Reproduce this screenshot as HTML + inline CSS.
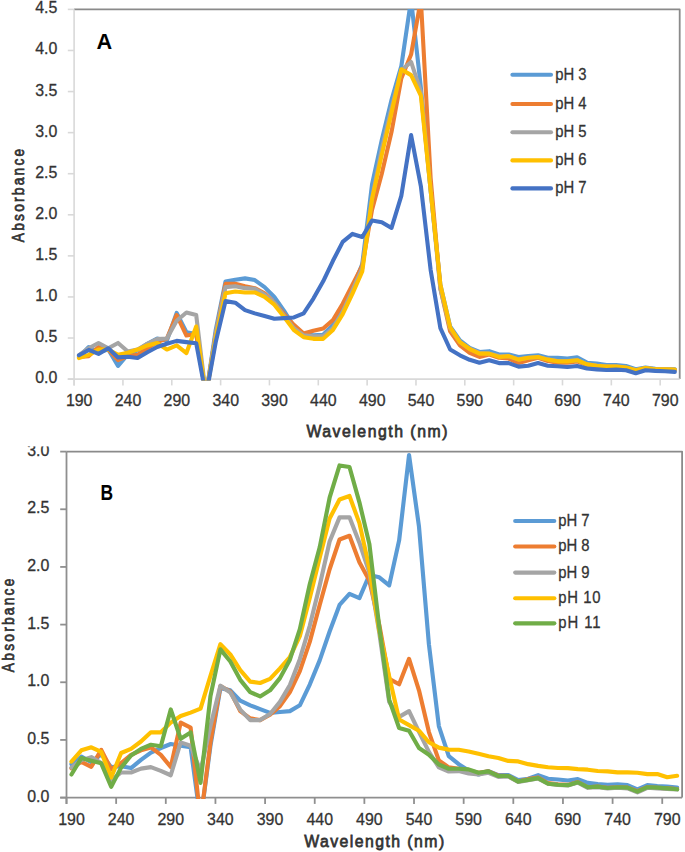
<!DOCTYPE html>
<html><head><meta charset="utf-8"><title>Absorbance spectra</title>
<style>html,body{margin:0;padding:0;background:#fff;overflow:hidden}svg{display:block}svg text{font-family:"Liberation Sans",sans-serif}</style>
</head><body>
<svg width="685" height="852" viewBox="0 0 685 852">
<rect width="685" height="852" fill="#fff"/>
<clipPath id="ca"><rect x="74.1" y="8.9" width="605.6" height="371.50000000000006"/></clipPath>
<path d="M74.10 9.40H679.70V379.10" fill="none" stroke="#8a8a8a" stroke-width="1.8" stroke-linejoin="round"/>
<line x1="74.10" y1="9.40" x2="74.10" y2="385.40" stroke="#d9d9d9" stroke-width="1.6"/>
<line x1="67.80" y1="379.10" x2="679.70" y2="379.10" stroke="#d9d9d9" stroke-width="1.6"/>
<line x1="67.80" y1="379.10" x2="74.10" y2="379.10" stroke="#d9d9d9" stroke-width="1.6"/>
<text transform="translate(57.30,383.10) scale(0.95,1)" text-anchor="end" font-size="16.8" font-weight="normal" fill="#333333" stroke="#333333" stroke-width="0.3" >0.0</text>
<line x1="67.80" y1="338.02" x2="74.10" y2="338.02" stroke="#d9d9d9" stroke-width="1.6"/>
<text transform="translate(57.30,342.02) scale(0.95,1)" text-anchor="end" font-size="16.8" font-weight="normal" fill="#333333" stroke="#333333" stroke-width="0.3" >0.5</text>
<line x1="67.80" y1="296.94" x2="74.10" y2="296.94" stroke="#d9d9d9" stroke-width="1.6"/>
<text transform="translate(57.30,300.94) scale(0.95,1)" text-anchor="end" font-size="16.8" font-weight="normal" fill="#333333" stroke="#333333" stroke-width="0.3" >1.0</text>
<line x1="67.80" y1="255.87" x2="74.10" y2="255.87" stroke="#d9d9d9" stroke-width="1.6"/>
<text transform="translate(57.30,259.87) scale(0.95,1)" text-anchor="end" font-size="16.8" font-weight="normal" fill="#333333" stroke="#333333" stroke-width="0.3" >1.5</text>
<line x1="67.80" y1="214.79" x2="74.10" y2="214.79" stroke="#d9d9d9" stroke-width="1.6"/>
<text transform="translate(57.30,218.79) scale(0.95,1)" text-anchor="end" font-size="16.8" font-weight="normal" fill="#333333" stroke="#333333" stroke-width="0.3" >2.0</text>
<line x1="67.80" y1="173.71" x2="74.10" y2="173.71" stroke="#d9d9d9" stroke-width="1.6"/>
<text transform="translate(57.30,177.71) scale(0.95,1)" text-anchor="end" font-size="16.8" font-weight="normal" fill="#333333" stroke="#333333" stroke-width="0.3" >2.5</text>
<line x1="67.80" y1="132.63" x2="74.10" y2="132.63" stroke="#d9d9d9" stroke-width="1.6"/>
<text transform="translate(57.30,136.63) scale(0.95,1)" text-anchor="end" font-size="16.8" font-weight="normal" fill="#333333" stroke="#333333" stroke-width="0.3" >3.0</text>
<line x1="67.80" y1="91.56" x2="74.10" y2="91.56" stroke="#d9d9d9" stroke-width="1.6"/>
<text transform="translate(57.30,95.56) scale(0.95,1)" text-anchor="end" font-size="16.8" font-weight="normal" fill="#333333" stroke="#333333" stroke-width="0.3" >3.5</text>
<line x1="67.80" y1="50.48" x2="74.10" y2="50.48" stroke="#d9d9d9" stroke-width="1.6"/>
<text transform="translate(57.30,54.48) scale(0.95,1)" text-anchor="end" font-size="16.8" font-weight="normal" fill="#333333" stroke="#333333" stroke-width="0.3" >4.0</text>
<line x1="67.80" y1="9.40" x2="74.10" y2="9.40" stroke="#d9d9d9" stroke-width="1.6"/>
<text transform="translate(57.30,13.40) scale(0.95,1)" text-anchor="end" font-size="16.8" font-weight="normal" fill="#333333" stroke="#333333" stroke-width="0.3" >4.5</text>
<line x1="74.10" y1="379.10" x2="74.10" y2="385.40" stroke="#d9d9d9" stroke-width="1.6"/>
<text transform="translate(79.18,406.30) scale(0.95,1)" text-anchor="middle" font-size="16.8" font-weight="normal" fill="#333333" stroke="#333333" stroke-width="0.3" >190</text>
<line x1="122.94" y1="379.10" x2="122.94" y2="385.40" stroke="#d9d9d9" stroke-width="1.6"/>
<text transform="translate(128.02,406.30) scale(0.95,1)" text-anchor="middle" font-size="16.8" font-weight="normal" fill="#333333" stroke="#333333" stroke-width="0.3" >240</text>
<line x1="171.78" y1="379.10" x2="171.78" y2="385.40" stroke="#d9d9d9" stroke-width="1.6"/>
<text transform="translate(176.86,406.30) scale(0.95,1)" text-anchor="middle" font-size="16.8" font-weight="normal" fill="#333333" stroke="#333333" stroke-width="0.3" >290</text>
<line x1="220.62" y1="379.10" x2="220.62" y2="385.40" stroke="#d9d9d9" stroke-width="1.6"/>
<text transform="translate(225.70,406.30) scale(0.95,1)" text-anchor="middle" font-size="16.8" font-weight="normal" fill="#333333" stroke="#333333" stroke-width="0.3" >340</text>
<line x1="269.45" y1="379.10" x2="269.45" y2="385.40" stroke="#d9d9d9" stroke-width="1.6"/>
<text transform="translate(274.54,406.30) scale(0.95,1)" text-anchor="middle" font-size="16.8" font-weight="normal" fill="#333333" stroke="#333333" stroke-width="0.3" >390</text>
<line x1="318.29" y1="379.10" x2="318.29" y2="385.40" stroke="#d9d9d9" stroke-width="1.6"/>
<text transform="translate(323.38,406.30) scale(0.95,1)" text-anchor="middle" font-size="16.8" font-weight="normal" fill="#333333" stroke="#333333" stroke-width="0.3" >440</text>
<line x1="367.13" y1="379.10" x2="367.13" y2="385.40" stroke="#d9d9d9" stroke-width="1.6"/>
<text transform="translate(372.22,406.30) scale(0.95,1)" text-anchor="middle" font-size="16.8" font-weight="normal" fill="#333333" stroke="#333333" stroke-width="0.3" >490</text>
<line x1="415.97" y1="379.10" x2="415.97" y2="385.40" stroke="#d9d9d9" stroke-width="1.6"/>
<text transform="translate(421.05,406.30) scale(0.95,1)" text-anchor="middle" font-size="16.8" font-weight="normal" fill="#333333" stroke="#333333" stroke-width="0.3" >540</text>
<line x1="464.81" y1="379.10" x2="464.81" y2="385.40" stroke="#d9d9d9" stroke-width="1.6"/>
<text transform="translate(469.89,406.30) scale(0.95,1)" text-anchor="middle" font-size="16.8" font-weight="normal" fill="#333333" stroke="#333333" stroke-width="0.3" >590</text>
<line x1="513.65" y1="379.10" x2="513.65" y2="385.40" stroke="#d9d9d9" stroke-width="1.6"/>
<text transform="translate(518.73,406.30) scale(0.95,1)" text-anchor="middle" font-size="16.8" font-weight="normal" fill="#333333" stroke="#333333" stroke-width="0.3" >640</text>
<line x1="562.49" y1="379.10" x2="562.49" y2="385.40" stroke="#d9d9d9" stroke-width="1.6"/>
<text transform="translate(567.57,406.30) scale(0.95,1)" text-anchor="middle" font-size="16.8" font-weight="normal" fill="#333333" stroke="#333333" stroke-width="0.3" >690</text>
<line x1="611.33" y1="379.10" x2="611.33" y2="385.40" stroke="#d9d9d9" stroke-width="1.6"/>
<text transform="translate(616.41,406.30) scale(0.95,1)" text-anchor="middle" font-size="16.8" font-weight="normal" fill="#333333" stroke="#333333" stroke-width="0.3" >740</text>
<line x1="660.16" y1="379.10" x2="660.16" y2="385.40" stroke="#d9d9d9" stroke-width="1.6"/>
<text transform="translate(665.25,406.30) scale(0.95,1)" text-anchor="middle" font-size="16.8" font-weight="normal" fill="#333333" stroke="#333333" stroke-width="0.3" >790</text>
<g clip-path="url(#ca)" fill="none" stroke-width="4.1" stroke-linejoin="round" stroke-linecap="round">
<polyline points="78.98,356.92 88.75,347.06 98.52,351.99 108.29,349.52 118.05,365.96 127.82,354.45 137.59,350.35 147.36,343.77 157.13,338.43 166.89,340.49 176.66,312.96 186.43,332.27 196.20,333.91 205.96,395.53 215.73,329.81 225.50,281.50 235.27,279.69 245.04,278.38 254.80,280.10 264.57,287.09 274.34,296.94 284.11,310.91 293.87,326.52 303.64,334.41 313.41,335.31 323.18,334.74 332.95,324.88 342.71,309.27 352.48,288.73 362.25,264.08 372.02,184.39 381.78,140.03 391.55,99.77 401.32,66.09 411.09,-0.46 420.85,87.45 430.62,190.14 440.39,284.62 450.16,326.52 459.93,340.49 469.69,347.88 479.46,351.99 489.23,351.17 499.00,354.45 508.76,354.45 518.53,356.92 528.30,356.10 538.07,355.27 547.84,357.74 557.60,357.74 567.37,358.56 577.14,357.33 586.91,362.67 596.67,363.49 606.44,365.13 616.21,365.13 625.98,365.96 635.75,369.24 645.51,367.60 655.28,368.83 665.05,369.24 674.82,369.24" stroke="#5B9BD5"/>
<polyline points="78.98,356.92 88.75,356.10 98.52,347.06 108.29,349.52 118.05,360.20 127.82,356.10 137.59,354.86 147.36,348.29 157.13,342.13 166.89,338.52 176.66,315.02 186.43,335.56 196.20,333.91 205.96,395.53 215.73,333.91 225.50,283.80 235.27,283.80 245.04,286.26 254.80,288.15 264.57,293.25 274.34,302.70 284.11,314.20 293.87,324.88 303.64,333.59 313.41,330.79 323.18,328.57 332.95,319.95 342.71,303.68 352.48,284.62 362.25,265.73 372.02,209.86 381.78,173.71 391.55,131.81 401.32,78.41 411.09,54.59 420.85,-0.46 430.62,177.82 440.39,288.73 450.16,331.45 459.93,345.42 469.69,352.81 479.46,356.92 489.23,354.45 499.00,357.74 508.76,358.56 518.53,363.08 528.30,360.20 538.07,357.74 547.84,361.03 557.60,362.67 567.37,362.67 577.14,361.44 586.91,365.13 596.67,366.37 606.44,366.78 616.21,366.78 625.98,368.01 635.75,370.88 645.51,368.42 655.28,369.65 665.05,369.65 674.82,370.06" stroke="#ED7D31"/>
<polyline points="78.98,355.27 88.75,348.29 98.52,342.95 108.29,348.29 118.05,342.95 127.82,351.50 137.59,349.52 147.36,343.77 157.13,339.09 166.89,338.52 176.66,320.77 186.43,312.55 196.20,315.02 205.96,395.53 215.73,333.91 225.50,287.09 235.27,286.26 245.04,288.15 254.80,288.73 264.57,294.48 274.34,302.70 284.11,315.84 293.87,328.16 303.64,335.31 313.41,336.38 323.18,336.38 332.95,328.16 342.71,311.73 352.48,290.37 362.25,268.19 372.02,198.36 381.78,149.06 391.55,107.99 401.32,70.20 411.09,61.98 420.85,91.56 430.62,190.14 440.39,288.73 450.16,328.16 459.93,342.13 469.69,348.70 479.46,352.81 489.23,353.63 499.00,356.10 508.76,356.10 518.53,359.38 528.30,357.74 538.07,356.92 547.84,359.38 557.60,361.03 567.37,361.03 577.14,360.20 586.91,364.31 596.67,365.54 606.44,366.37 616.21,366.37 625.98,367.60 635.75,370.06 645.51,368.01 655.28,369.24 665.05,369.24 674.82,369.49" stroke="#A5A5A5"/>
<polyline points="78.98,358.07 88.75,354.86 98.52,349.52 108.29,349.52 118.05,354.86 127.82,352.81 137.59,349.52 147.36,345.42 157.13,342.95 166.89,349.52 176.66,345.42 186.43,353.06 196.20,326.52 205.96,395.53 215.73,338.02 225.50,293.25 235.27,291.52 245.04,292.43 254.80,292.43 264.57,296.94 274.34,304.67 284.11,316.91 293.87,330.05 303.64,337.20 313.41,338.84 323.18,338.84 332.95,330.05 342.71,314.20 352.48,293.66 362.25,271.48 372.02,199.18 381.78,154.82 391.55,112.51 401.32,69.37 411.09,75.12 420.85,95.66 430.62,190.14 440.39,284.62 450.16,327.34 459.93,342.13 469.69,349.03 479.46,353.63 489.23,353.63 499.00,356.92 508.76,356.10 518.53,359.63 528.30,357.74 538.07,356.92 547.84,359.63 557.60,361.35 567.37,361.35 577.14,360.20 586.91,364.31 596.67,365.71 606.44,366.45 616.21,366.45 625.98,367.60 635.75,370.23 645.51,367.93 655.28,369.24 665.05,369.24 674.82,369.49" stroke="#FFC000"/>
<polyline points="78.98,355.27 88.75,349.93 98.52,353.88 108.29,348.29 118.05,357.41 127.82,356.75 137.59,358.07 147.36,352.24 157.13,347.06 166.89,343.77 176.66,340.90 186.43,342.13 196.20,343.20 205.96,395.53 215.73,342.13 225.50,301.13 235.27,302.70 245.04,310.09 254.80,313.38 264.57,316.09 274.34,318.72 284.11,318.14 293.87,317.48 303.64,313.38 313.41,298.59 323.18,281.33 332.95,260.80 342.71,241.90 352.48,233.93 362.25,236.97 372.02,220.54 381.78,222.18 391.55,227.93 401.32,195.89 411.09,135.10 420.85,186.03 430.62,269.83 440.39,328.16 450.16,349.52 459.93,355.27 469.69,359.79 479.46,362.67 489.23,360.20 499.00,363.08 508.76,363.08 518.53,366.61 528.30,365.71 538.07,363.08 547.84,365.71 557.60,366.20 567.37,366.94 577.14,365.96 586.91,368.58 596.67,369.41 606.44,370.06 616.21,369.65 625.98,370.23 635.75,373.18 645.51,370.23 655.28,370.88 665.05,371.30 674.82,371.87" stroke="#4472C4"/>
</g>
<text transform="translate(24.40,195.50) rotate(-90) scale(0.8,1)" text-anchor="middle" font-size="17.2" font-weight="normal" fill="#333333" stroke="#333333" stroke-width="0.75" textLength="116.88" lengthAdjust="spacing" >Absorbance</text>
<text transform="translate(376.90,437.00) scale(0.92,1)" text-anchor="middle" font-size="17.2" font-weight="normal" fill="#333333" stroke="#333333" stroke-width="0.75" textLength="153.26" lengthAdjust="spacing" >Wavelength (nm)</text>
<text transform="translate(96.60,49.10)" text-anchor="start" font-size="21.7" font-weight="bold" fill="#000" >A</text>
<line x1="512.4" y1="74.70" x2="551.0" y2="74.70" stroke="#5B9BD5" stroke-width="4.1" stroke-linecap="round"/>
<text transform="translate(555.20,79.60) scale(0.9,1)" text-anchor="start" font-size="16.5" font-weight="normal" fill="#333333" stroke="#333333" stroke-width="0.3" >pH 3</text>
<line x1="512.4" y1="104.00" x2="551.0" y2="104.00" stroke="#ED7D31" stroke-width="4.1" stroke-linecap="round"/>
<text transform="translate(555.20,108.90) scale(0.9,1)" text-anchor="start" font-size="16.5" font-weight="normal" fill="#333333" stroke="#333333" stroke-width="0.3" >pH 4</text>
<line x1="512.4" y1="132.20" x2="551.0" y2="132.20" stroke="#A5A5A5" stroke-width="4.1" stroke-linecap="round"/>
<text transform="translate(555.20,137.10) scale(0.9,1)" text-anchor="start" font-size="16.5" font-weight="normal" fill="#333333" stroke="#333333" stroke-width="0.3" >pH 5</text>
<line x1="512.4" y1="160.40" x2="551.0" y2="160.40" stroke="#FFC000" stroke-width="4.1" stroke-linecap="round"/>
<text transform="translate(555.20,165.30) scale(0.9,1)" text-anchor="start" font-size="16.5" font-weight="normal" fill="#333333" stroke="#333333" stroke-width="0.3" >pH 6</text>
<line x1="512.4" y1="188.40" x2="551.0" y2="188.40" stroke="#4472C4" stroke-width="4.1" stroke-linecap="round"/>
<text transform="translate(555.20,193.30) scale(0.9,1)" text-anchor="start" font-size="16.5" font-weight="normal" fill="#333333" stroke="#333333" stroke-width="0.3" >pH 7</text>
<clipPath id="cb"><rect x="66.5" y="451.1" width="615.6" height="347.8"/></clipPath>
<path d="M66.50 451.60H682.10V797.60" fill="none" stroke="#8a8a8a" stroke-width="1.8" stroke-linejoin="round"/>
<line x1="66.50" y1="451.60" x2="66.50" y2="803.90" stroke="#8f8f8f" stroke-width="1.8"/>
<line x1="60.20" y1="797.60" x2="682.10" y2="797.60" stroke="#8f8f8f" stroke-width="1.8"/>
<line x1="60.20" y1="797.60" x2="66.50" y2="797.60" stroke="#8f8f8f" stroke-width="1.8"/>
<text transform="translate(49.40,801.60) scale(0.95,1)" text-anchor="end" font-size="16.8" font-weight="normal" fill="#333333" stroke="#333333" stroke-width="0.3" >0.0</text>
<line x1="60.20" y1="739.93" x2="66.50" y2="739.93" stroke="#8f8f8f" stroke-width="1.8"/>
<text transform="translate(49.40,743.93) scale(0.95,1)" text-anchor="end" font-size="16.8" font-weight="normal" fill="#333333" stroke="#333333" stroke-width="0.3" >0.5</text>
<line x1="60.20" y1="682.27" x2="66.50" y2="682.27" stroke="#8f8f8f" stroke-width="1.8"/>
<text transform="translate(49.40,686.27) scale(0.95,1)" text-anchor="end" font-size="16.8" font-weight="normal" fill="#333333" stroke="#333333" stroke-width="0.3" >1.0</text>
<line x1="60.20" y1="624.60" x2="66.50" y2="624.60" stroke="#8f8f8f" stroke-width="1.8"/>
<text transform="translate(49.40,628.60) scale(0.95,1)" text-anchor="end" font-size="16.8" font-weight="normal" fill="#333333" stroke="#333333" stroke-width="0.3" >1.5</text>
<line x1="60.20" y1="566.93" x2="66.50" y2="566.93" stroke="#8f8f8f" stroke-width="1.8"/>
<text transform="translate(49.40,570.93) scale(0.95,1)" text-anchor="end" font-size="16.8" font-weight="normal" fill="#333333" stroke="#333333" stroke-width="0.3" >2.0</text>
<line x1="60.20" y1="509.27" x2="66.50" y2="509.27" stroke="#8f8f8f" stroke-width="1.8"/>
<text transform="translate(49.40,513.27) scale(0.95,1)" text-anchor="end" font-size="16.8" font-weight="normal" fill="#333333" stroke="#333333" stroke-width="0.3" >2.5</text>
<line x1="60.20" y1="451.60" x2="66.50" y2="451.60" stroke="#8f8f8f" stroke-width="1.8"/>
<text transform="translate(49.40,455.60) scale(0.95,1)" text-anchor="end" font-size="16.8" font-weight="normal" fill="#333333" stroke="#333333" stroke-width="0.3" >3.0</text>
<line x1="66.50" y1="797.60" x2="66.50" y2="803.90" stroke="#8f8f8f" stroke-width="1.8"/>
<text transform="translate(71.46,824.60) scale(0.95,1)" text-anchor="middle" font-size="16.8" font-weight="normal" fill="#333333" stroke="#333333" stroke-width="0.3" >190</text>
<line x1="116.15" y1="797.60" x2="116.15" y2="803.90" stroke="#8f8f8f" stroke-width="1.8"/>
<text transform="translate(121.11,824.60) scale(0.95,1)" text-anchor="middle" font-size="16.8" font-weight="normal" fill="#333333" stroke="#333333" stroke-width="0.3" >240</text>
<line x1="165.79" y1="797.60" x2="165.79" y2="803.90" stroke="#8f8f8f" stroke-width="1.8"/>
<text transform="translate(170.75,824.60) scale(0.95,1)" text-anchor="middle" font-size="16.8" font-weight="normal" fill="#333333" stroke="#333333" stroke-width="0.3" >290</text>
<line x1="215.44" y1="797.60" x2="215.44" y2="803.90" stroke="#8f8f8f" stroke-width="1.8"/>
<text transform="translate(220.40,824.60) scale(0.95,1)" text-anchor="middle" font-size="16.8" font-weight="normal" fill="#333333" stroke="#333333" stroke-width="0.3" >340</text>
<line x1="265.08" y1="797.60" x2="265.08" y2="803.90" stroke="#8f8f8f" stroke-width="1.8"/>
<text transform="translate(270.05,824.60) scale(0.95,1)" text-anchor="middle" font-size="16.8" font-weight="normal" fill="#333333" stroke="#333333" stroke-width="0.3" >390</text>
<line x1="314.73" y1="797.60" x2="314.73" y2="803.90" stroke="#8f8f8f" stroke-width="1.8"/>
<text transform="translate(319.69,824.60) scale(0.95,1)" text-anchor="middle" font-size="16.8" font-weight="normal" fill="#333333" stroke="#333333" stroke-width="0.3" >440</text>
<line x1="364.37" y1="797.60" x2="364.37" y2="803.90" stroke="#8f8f8f" stroke-width="1.8"/>
<text transform="translate(369.34,824.60) scale(0.95,1)" text-anchor="middle" font-size="16.8" font-weight="normal" fill="#333333" stroke="#333333" stroke-width="0.3" >490</text>
<line x1="414.02" y1="797.60" x2="414.02" y2="803.90" stroke="#8f8f8f" stroke-width="1.8"/>
<text transform="translate(418.98,824.60) scale(0.95,1)" text-anchor="middle" font-size="16.8" font-weight="normal" fill="#333333" stroke="#333333" stroke-width="0.3" >540</text>
<line x1="463.66" y1="797.60" x2="463.66" y2="803.90" stroke="#8f8f8f" stroke-width="1.8"/>
<text transform="translate(468.63,824.60) scale(0.95,1)" text-anchor="middle" font-size="16.8" font-weight="normal" fill="#333333" stroke="#333333" stroke-width="0.3" >590</text>
<line x1="513.31" y1="797.60" x2="513.31" y2="803.90" stroke="#8f8f8f" stroke-width="1.8"/>
<text transform="translate(518.27,824.60) scale(0.95,1)" text-anchor="middle" font-size="16.8" font-weight="normal" fill="#333333" stroke="#333333" stroke-width="0.3" >640</text>
<line x1="562.95" y1="797.60" x2="562.95" y2="803.90" stroke="#8f8f8f" stroke-width="1.8"/>
<text transform="translate(567.92,824.60) scale(0.95,1)" text-anchor="middle" font-size="16.8" font-weight="normal" fill="#333333" stroke="#333333" stroke-width="0.3" >690</text>
<line x1="612.60" y1="797.60" x2="612.60" y2="803.90" stroke="#8f8f8f" stroke-width="1.8"/>
<text transform="translate(617.56,824.60) scale(0.95,1)" text-anchor="middle" font-size="16.8" font-weight="normal" fill="#333333" stroke="#333333" stroke-width="0.3" >740</text>
<line x1="662.24" y1="797.60" x2="662.24" y2="803.90" stroke="#8f8f8f" stroke-width="1.8"/>
<text transform="translate(667.21,824.60) scale(0.95,1)" text-anchor="middle" font-size="16.8" font-weight="normal" fill="#333333" stroke="#333333" stroke-width="0.3" >790</text>
<g clip-path="url(#cb)" fill="none" stroke-width="4.15" stroke-linejoin="round" stroke-linecap="round">
<polyline points="71.46,764.15 81.39,756.66 91.32,762.19 101.25,754.35 111.18,767.15 121.11,766.23 131.04,768.07 140.97,759.89 150.90,752.62 160.83,748.01 170.75,743.97 180.68,745.70 190.61,747.20 200.54,820.67 210.47,745.70 220.40,688.15 230.33,690.34 240.26,700.72 250.19,705.33 260.12,709.14 270.05,712.83 279.97,712.02 289.90,711.10 299.83,705.33 309.76,684.57 319.69,660.35 329.62,631.52 339.55,604.99 349.48,593.81 359.41,598.07 369.34,575.01 379.26,577.31 389.19,585.39 399.12,540.41 409.05,455.06 418.98,526.57 428.91,644.21 438.84,726.09 448.77,756.08 458.70,764.15 468.63,770.50 478.55,774.53 488.48,771.07 498.41,775.11 508.34,775.11 518.27,780.07 528.20,778.80 538.13,775.11 548.06,778.80 557.99,779.49 567.92,780.53 577.85,779.15 587.77,782.84 597.70,783.99 607.63,784.91 617.56,784.34 627.49,785.14 637.42,789.30 647.35,785.14 657.28,786.07 667.21,786.64 677.14,787.45" stroke="#5B9BD5"/>
<polyline points="71.46,768.31 81.39,761.85 91.32,766.81 101.25,749.85 111.18,769.34 121.11,763.00 131.04,754.93 140.97,750.31 150.90,747.43 160.83,754.93 170.75,767.04 180.68,722.63 190.61,727.59 200.54,820.67 210.47,742.24 220.40,686.19 230.33,691.49 240.26,711.10 250.19,718.37 260.12,720.10 270.05,714.79 279.97,706.14 289.90,692.07 299.83,671.08 309.76,641.90 319.69,604.99 329.62,569.24 339.55,539.48 349.48,535.79 359.41,562.32 369.34,580.43 379.26,624.60 389.19,678.81 399.12,684.23 409.05,658.85 418.98,690.34 428.91,732.09 438.84,760.35 448.77,767.38 458.70,768.77 468.63,770.50 478.55,772.80 488.48,771.42 498.41,775.69 508.34,776.03 518.27,781.45 528.20,779.15 538.13,777.42 548.06,783.18 557.99,784.34 567.92,784.91 577.85,782.03 587.77,787.22 597.70,786.64 607.63,787.80 617.56,787.22 627.49,787.68 637.42,791.26 647.35,787.22 657.28,787.80 667.21,788.37 677.14,788.95" stroke="#ED7D31"/>
<polyline points="71.46,767.61 81.39,760.12 91.32,757.12 101.25,763.00 111.18,780.30 121.11,772.46 131.04,772.46 140.97,768.65 150.90,767.15 160.83,770.84 170.75,775.23 180.68,742.36 190.61,745.70 200.54,771.07 210.47,726.09 220.40,685.73 230.33,692.42 240.26,709.60 250.19,720.10 260.12,720.10 270.05,713.98 279.97,701.87 289.90,685.03 299.83,659.20 309.76,625.75 319.69,585.39 329.62,541.56 339.55,517.34 349.48,517.34 359.41,542.71 369.34,572.70 379.26,632.67 389.19,701.87 399.12,716.87 409.05,711.10 418.98,731.86 428.91,751.81 438.84,767.38 448.77,771.53 458.70,771.07 468.63,773.38 478.55,774.53 488.48,772.80 498.41,776.84 508.34,776.49 518.27,782.03 528.20,780.30 538.13,778.57 548.06,783.76 557.99,784.91 567.92,785.49 577.85,782.61 587.77,787.80 597.70,787.22 607.63,788.37 617.56,787.80 627.49,788.37 637.42,792.41 647.35,787.80 657.28,788.37 667.21,788.95 677.14,789.53" stroke="#A5A5A5"/>
<polyline points="71.46,761.62 81.39,750.31 91.32,747.31 101.25,751.93 111.18,777.53 121.11,752.97 131.04,748.81 140.97,741.55 150.90,732.32 160.83,732.32 170.75,722.63 180.68,716.06 190.61,712.60 200.54,708.68 210.47,675.81 220.40,644.21 230.33,654.47 240.26,670.16 250.19,681.57 260.12,682.96 270.05,678.92 279.97,668.43 289.90,657.01 299.83,636.13 309.76,598.07 319.69,557.71 329.62,518.49 339.55,499.46 349.48,496.00 359.41,523.11 369.34,568.09 379.26,630.37 389.19,676.50 399.12,719.52 409.05,725.17 418.98,730.71 428.91,742.24 438.84,747.66 448.77,749.62 458.70,749.74 468.63,751.47 478.55,753.77 488.48,756.20 498.41,757.93 508.34,760.92 518.27,761.39 528.20,764.15 538.13,765.88 548.06,767.27 557.99,767.96 567.92,768.19 577.85,769.11 587.77,769.69 597.70,770.96 607.63,771.42 617.56,772.34 627.49,772.34 637.42,772.80 647.35,774.07 657.28,774.07 667.21,777.19 677.14,775.80" stroke="#FFC000"/>
<polyline points="71.46,774.53 81.39,758.04 91.32,760.69 101.25,763.35 111.18,786.76 121.11,767.61 131.04,755.50 140.97,748.93 150.90,744.78 160.83,746.28 170.75,709.49 180.68,738.78 190.61,732.44 200.54,782.84 210.47,696.11 220.40,649.40 230.33,661.51 240.26,679.84 250.19,692.07 260.12,696.45 270.05,690.34 279.97,678.11 289.90,659.66 299.83,629.21 309.76,584.23 319.69,547.33 329.62,497.73 339.55,465.44 349.48,467.05 359.41,502.35 369.34,543.87 379.26,626.91 389.19,699.57 399.12,727.94 409.05,730.71 418.98,748.01 428.91,754.70 438.84,764.50 448.77,768.77 458.70,768.77 468.63,769.34 478.55,772.80 488.48,771.42 498.41,776.03 508.34,776.03 518.27,781.57 528.20,779.84 538.13,778.11 548.06,783.76 557.99,784.80 567.92,785.14 577.85,782.26 587.77,787.22 597.70,786.64 607.63,788.03 617.56,787.22 627.49,787.68 637.42,791.60 647.35,787.22 657.28,787.68 667.21,788.37 677.14,789.30" stroke="#70AD47"/>
</g>
<text transform="translate(14.20,625.40) rotate(-90) scale(0.8,1)" text-anchor="middle" font-size="17.2" font-weight="normal" fill="#333333" stroke="#333333" stroke-width="0.75" textLength="116.88" lengthAdjust="spacing" >Absorbance</text>
<text transform="translate(374.20,847.10) scale(0.92,1)" text-anchor="middle" font-size="17.2" font-weight="normal" fill="#333333" stroke="#333333" stroke-width="0.75" textLength="152.17" lengthAdjust="spacing" >Wavelength (nm)</text>
<text transform="translate(100.60,500.10) scale(0.81,1)" text-anchor="start" font-size="21.5" font-weight="bold" fill="#000" >B</text>
<line x1="515.2" y1="521.00" x2="554.3" y2="521.00" stroke="#5B9BD5" stroke-width="4.15" stroke-linecap="round"/>
<text transform="translate(558.20,525.90) scale(0.9,1)" text-anchor="start" font-size="16.5" font-weight="normal" fill="#333333" stroke="#333333" stroke-width="0.3" >pH 7</text>
<line x1="515.2" y1="546.50" x2="554.3" y2="546.50" stroke="#ED7D31" stroke-width="4.15" stroke-linecap="round"/>
<text transform="translate(558.20,551.40) scale(0.9,1)" text-anchor="start" font-size="16.5" font-weight="normal" fill="#333333" stroke="#333333" stroke-width="0.3" >pH 8</text>
<line x1="515.2" y1="572.60" x2="554.3" y2="572.60" stroke="#A5A5A5" stroke-width="4.15" stroke-linecap="round"/>
<text transform="translate(558.20,577.50) scale(0.9,1)" text-anchor="start" font-size="16.5" font-weight="normal" fill="#333333" stroke="#333333" stroke-width="0.3" >pH 9</text>
<line x1="515.2" y1="598.20" x2="554.3" y2="598.20" stroke="#FFC000" stroke-width="4.15" stroke-linecap="round"/>
<text transform="translate(558.20,603.10) scale(0.9,1)" text-anchor="start" font-size="16.5" font-weight="normal" fill="#333333" stroke="#333333" stroke-width="0.3" textLength="47.11" lengthAdjust="spacing" >pH 10</text>
<line x1="515.2" y1="623.30" x2="554.3" y2="623.30" stroke="#70AD47" stroke-width="4.15" stroke-linecap="round"/>
<text transform="translate(558.20,628.20) scale(0.9,1)" text-anchor="start" font-size="16.5" font-weight="normal" fill="#333333" stroke="#333333" stroke-width="0.3" textLength="47.11" lengthAdjust="spacing" >pH 11</text>
<rect x="18" y="436" width="44" height="10.4" fill="#fff"/>
</svg>
</body></html>
